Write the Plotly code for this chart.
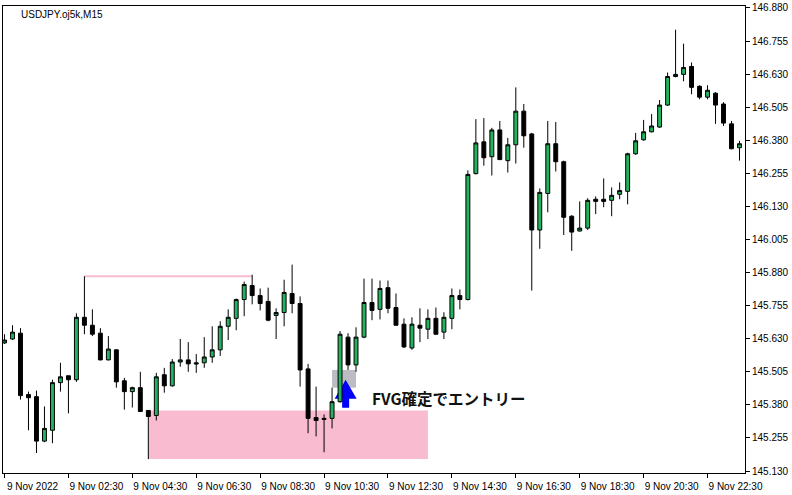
import plotly.graph_objects as go

# ---- data (USDJPY M15, 9 Nov 2022, bars from 00:30) ----
opens = [145.614, 145.629, 145.651, 145.419, 145.411, 145.243, 145.284, 145.464, 145.490, 145.475,
         145.711, 145.681, 145.651, 145.550, 145.588, 145.471, 145.430, 145.445, 145.359, 145.340,
         145.494, 145.452, 145.542, 145.550, 145.539, 145.539, 145.561, 145.588, 145.677, 145.707,
         145.778, 145.831, 145.793, 145.771, 145.718, 145.729, 145.801, 145.763, 145.516, 145.332,
         145.329, 145.329, 145.392, 145.636, 145.531, 145.636, 145.767, 145.741, 145.823, 145.748,
         145.685, 145.595, 145.681, 145.666, 145.707, 145.655, 145.707, 145.793, 145.778, 146.254,
         146.374, 146.318, 146.419, 146.303, 146.363, 146.490, 146.404, 146.041, 146.179, 146.367,
         146.299, 146.093, 146.037, 146.048, 146.157, 146.157, 146.153, 146.176, 146.187, 146.329,
         146.382, 146.412, 146.430, 146.513, 146.621, 146.629, 146.659, 146.584, 146.543, 146.558,
         146.517, 146.442, 146.352]
highs = [145.647, 145.681, 145.670, 145.430, 145.434, 145.374, 145.475, 145.539, 145.490, 145.726,
         145.866, 145.741, 145.670, 145.640, 145.590, 145.482, 145.449, 145.505, 145.359, 145.501,
         145.520, 145.553, 145.629, 145.617, 145.572, 145.636, 145.677, 145.696, 145.741, 145.782,
         145.846, 145.872, 145.820, 145.823, 145.745, 145.853, 145.910, 145.790, 145.535, 145.449,
         145.344, 145.445, 145.659, 145.651, 145.673, 145.857, 145.857, 145.850, 145.850, 145.801,
         145.707, 145.711, 145.745, 145.741, 145.748, 145.730, 145.820, 145.816, 146.266, 146.460,
         146.464, 146.427, 146.453, 146.389, 146.580, 146.517, 146.408, 146.198, 146.453, 146.449,
         146.303, 146.097, 146.149, 146.161, 146.168, 146.236, 146.202, 146.221, 146.333, 146.408,
         146.457, 146.479, 146.532, 146.636, 146.798, 146.745, 146.674, 146.588, 146.588, 146.562,
         146.524, 146.453, 146.378]
lows = [145.610, 145.625, 145.400, 145.284, 145.198, 145.239, 145.235, 145.430, 145.348, 145.467,
        145.647, 145.640, 145.548, 145.548, 145.445, 145.362, 145.370, 145.353, 145.175, 145.321,
        145.426, 145.449, 145.524, 145.505, 145.501, 145.520, 145.539, 145.565, 145.625, 145.662,
        145.715, 145.760, 145.737, 145.696, 145.629, 145.677, 145.726, 145.449, 145.273, 145.261,
        145.201, 145.291, 145.388, 145.512, 145.505, 145.632, 145.700, 145.703, 145.726, 145.679,
        145.595, 145.588, 145.617, 145.629, 145.645, 145.629, 145.666, 145.741, 145.775, 146.251,
        146.284, 146.247, 146.305, 146.258, 146.292, 146.352, 145.812, 145.970, 146.108, 146.262,
        146.022, 145.962, 146.035, 146.041, 146.101, 146.127, 146.093, 146.157, 146.138, 146.325,
        146.378, 146.410, 146.427, 146.510, 146.618, 146.603, 146.554, 146.535, 146.535, 146.442,
        146.434, 146.346, 146.303]
closes = [145.625, 145.655, 145.415, 145.407, 145.243, 145.291, 145.464, 145.486, 145.475, 145.711,
          145.681, 145.647, 145.550, 145.591, 145.467, 145.430, 145.445, 145.355, 145.336, 145.486,
          145.452, 145.542, 145.550, 145.535, 145.535, 145.561, 145.588, 145.677, 145.711, 145.778,
          145.835, 145.793, 145.763, 145.700, 145.729, 145.805, 145.763, 145.512, 145.329, 145.321,
          145.325, 145.392, 145.647, 145.531, 145.636, 145.767, 145.737, 145.820, 145.745, 145.681,
          145.599, 145.685, 145.670, 145.707, 145.647, 145.711, 145.793, 145.778, 146.251, 146.370,
          146.314, 146.419, 146.307, 146.363, 146.490, 146.397, 146.041, 146.183, 146.367, 146.299,
          146.089, 146.033, 146.048, 146.153, 146.149, 146.149, 146.172, 146.190, 146.329, 146.378,
          146.412, 146.434, 146.513, 146.621, 146.629, 146.655, 146.580, 146.543, 146.569, 146.513,
          146.445, 146.348, 146.367]
bar_index = list(range(len(opens)))

time_tick_index = [0, 8, 16, 24, 32, 40, 48, 56, 64, 72, 80, 88]
time_tick_labels = ["9 Nov 2022", "9 Nov 02:30", "9 Nov 04:30", "9 Nov 06:30", "9 Nov 08:30",
                    "9 Nov 10:30", "9 Nov 12:30", "9 Nov 14:30", "9 Nov 16:30", "9 Nov 18:30",
                    "9 Nov 20:30", "9 Nov 22:30"]
price_ticks = [145.130, 145.255, 145.380, 145.505, 145.630, 145.755, 145.880, 146.005,
               146.130, 146.255, 146.380, 146.505, 146.630, 146.755, 146.880]
price_labels = ["%.3f" % p for p in price_ticks]

# zones / annotations
high_line_start, high_line_end = 10, 31          # previous high line
ob_start, ob_end = 18, 53                        # pink zone from bar 18
fvg_start, fvg_end = 41, 44                      # FVG between bar 41 high and bar 43 low
arrow_x, arrow_y = 42.7, 145.475
label_x, label_y = 45.8, 145.407
label_text = "FVG確定でエントリー"
chart_title = "USDJPY.oj5k,M15"

GREEN = "#22B35F"
PINK = "#F8BBD0"
GRAY = "#BCBCC4"

fig = go.Figure()
fig.add_trace(go.Candlestick(
    x=bar_index, open=opens, high=highs, low=lows, close=closes,
    increasing=dict(fillcolor=GREEN, line=dict(color="black", width=1)),
    decreasing=dict(fillcolor="black", line=dict(color="black", width=1)),
    whiskerwidth=0, hoverinfo="skip", showlegend=False,
))

shapes = [
    dict(type="rect", xref="x", yref="y", x0=ob_start, x1=ob_end,
         y0=lows[ob_start], y1=highs[ob_start], fillcolor=PINK, line=dict(width=0), layer="below"),
    dict(type="line", xref="x", yref="y", x0=high_line_start, x1=high_line_end,
         y0=highs[high_line_start], y1=highs[high_line_start], line=dict(color=PINK, width=2), layer="below"),
    dict(type="rect", xref="x", yref="y", x0=fvg_start, x1=fvg_end,
         y0=highs[fvg_start], y1=lows[fvg_start + 2], fillcolor=GRAY, line=dict(width=0), layer="below"),
    dict(type="path", xref="x", yref="y", xsizemode="pixel", ysizemode="pixel",
         xanchor=arrow_x, yanchor=arrow_y,
         path="M0,0 L11,-19 L3.5,-19 L3.5,-28 L-3.5,-28 L-3.5,-19 L-11,-19 Z",
         fillcolor="#0000FF", line=dict(width=0), layer="below"),
]

fig.update_layout(
    width=792, height=495,
    margin=dict(l=2, r=47, t=2, b=22),
    paper_bgcolor="white", plot_bgcolor="white",
    shapes=shapes,
    font=dict(family="Liberation Sans", size=10, color="black"),
    annotations=[
        dict(xref="paper", yref="paper", x=0.0215, y=0.981, xanchor="left", yanchor="middle",
             text=chart_title, showarrow=False, font=dict(family="Liberation Sans", size=10, color="black")),
        dict(xref="x", yref="y", x=label_x, y=label_y, xanchor="left", yanchor="middle",
             text="<b>" + label_text + "</b>", showarrow=False,
             font=dict(family="Noto Sans CJK JP", size=15.5, color="#111111")),
    ],
    xaxis=dict(
        range=[-0.19, 92.69], showgrid=False, zeroline=False,
        showline=True, mirror=True, linecolor="black", linewidth=1,
        ticks="outside", ticklen=4, tickcolor="black",
        tickvals=time_tick_index, ticktext=time_tick_labels, ticklabelshift=28,
        ticklabeloverflow="allow",
        tickfont=dict(family="Liberation Sans", size=10, color="black"),
        rangeslider=dict(visible=False), fixedrange=True,
    ),
    yaxis=dict(
        side="right", range=[145.1225, 146.8875], showgrid=False, zeroline=False,
        showline=True, mirror=True, linecolor="black", linewidth=1,
        ticks="outside", ticklen=4, tickcolor="black",
        tickvals=price_ticks, ticktext=price_labels, ticklabeloverflow="allow",
        tickfont=dict(family="Liberation Sans", size=10, color="black"),
        fixedrange=True,
    ),
)

fig.write_html("out.html", config={"displayModeBar": False},
               post_script="document.body.style.margin='0px';document.body.style.padding='0px';document.body.style.overflow='hidden';")
